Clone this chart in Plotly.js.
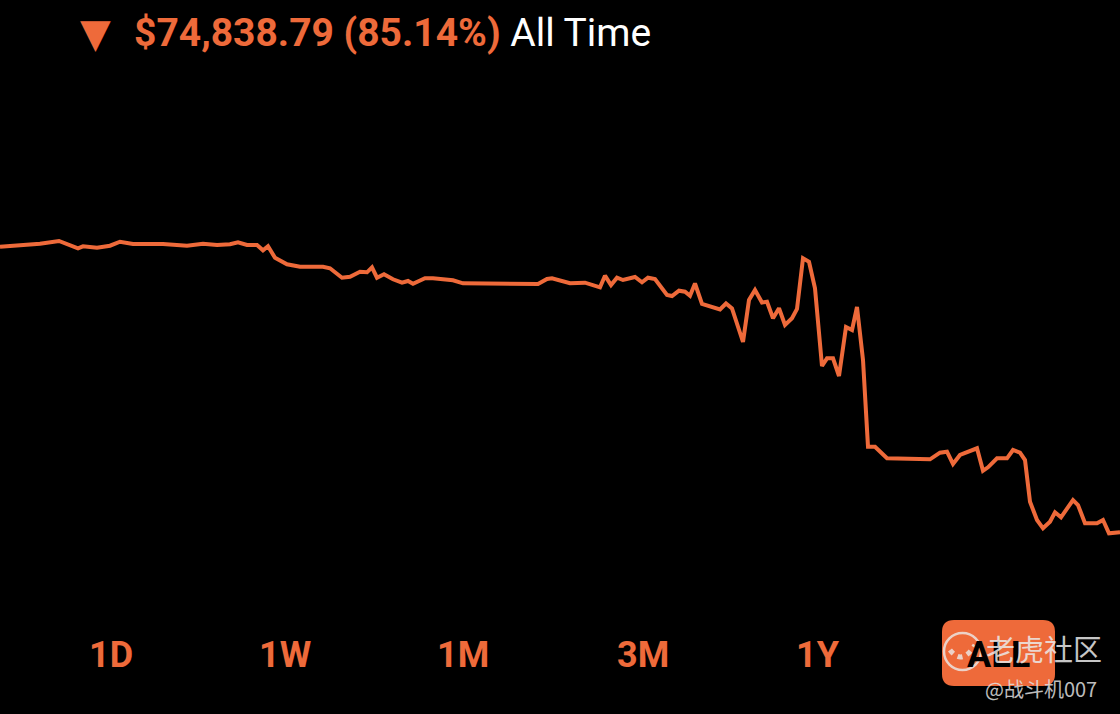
<!DOCTYPE html>
<html>
<head>
<meta charset="utf-8">
<script src="https://cdn.plot.ly/plotly-3.0.1.min.js"></script>
<style>
  html, body { margin: 0; padding: 0; background: #000; }
  #chart { width: 1120px; height: 714px; }
</style>
</head>
<body>
<div id="chart"></div>
<script>
// Days since account opening (estimated position along the All Time axis)
const days = [0,20,40,59,70,78,83,97,110,120,133,163,187,203,217,230,238,247,257,263,268,275,287,300,323,330,342,350,360,367,372,377,384,393,402,408,413,425,433,453,463,493,538,547,552,570,585,600,605,611,617,623,635,642,648,655,667,672,679,685,690,695,702,720,726,732,743,749,755,762,767,773,779,785,792,797,803,809,815,822,827,833,839,846,852,857,863,868,875,887,930,940,947,953,960,977,983,988,997,1007,1013,1020,1025,1030,1037,1043,1050,1055,1061,1073,1078,1085,1097,1103,1109,1120];
// Portfolio value (USD), estimated from the curve
const portfolioValue = [87901,88163,88687,89394,88163,87482,88006,87639,88163,89211,88608,88608,88163,88687,88346,88530,89054,88346,88346,86958,88006,85019,83290,82661,82661,82242,79779,80041,81351,81194,82504,79779,80670,79360,78469,78914,78207,79622,79622,79098,78312,78312,78128,79438,79622,78312,78469,77264,80303,77866,79779,79176,79962,78574,79779,79438,75246,74984,76373,76111,75063,78259,72888,71447,73019,71709,62932,73936,76556,73281,73491,69142,71762,67386,69142,71578,84862,83971,77002,56644,58662,58662,54024,66862,66076,72102,58216,35501,35501,32462,32200,33929,34191,30968,33326,35082,29213,30104,32462,32462,34636,33929,32016,21091,16296,14122,15851,18314,17004,21536,20226,15432,15432,16296,12812,13062];
const changeText = "$74,838.79 (85.14%)";
const periodText = "All Time";
const rangeLabels = ["1D","1W","1M","3M","1Y","ALL"];
const rangeX = [111,285,463,643,818,998];
const watermark = "老虎社区";
const watermarkUser = "@战斗机007";

const ORANGE = "#EE6A3A";
const W = 1120, H = 714;
const px = x => x / W;
const py = y => (H - y) / H;

const trace = {
  x: days, y: portfolioValue, type: "scatter", mode: "lines",
  line: { color: ORANGE, width: 4, shape: "linear" },
  hoverinfo: "skip"
};

const annotations = [];
annotations.push({
  xref: "paper", yref: "paper", x: px(95), y: py(33), xanchor: "center", yanchor: "middle",
  text: "▼", showarrow: false, font: { family: "DejaVu Sans", size: 40, color: ORANGE }
});
annotations.push({
  xref: "paper", yref: "paper", x: px(132), y: py(33), xanchor: "left", yanchor: "middle",
  text: "<b>" + changeText + "</b> <span style=\"color:#ffffff\">" + periodText + "</span>",
  showarrow: false, font: { family: "Roboto", size: 39, color: ORANGE }
});
rangeLabels.forEach((lab, i) => {
  const isSel = i === rangeLabels.length - 1;
  annotations.push({
    xref: "paper", yref: "paper", x: px(rangeX[i]), y: py(655), xanchor: "center", yanchor: "middle",
    text: "<b>" + lab + "</b>", showarrow: false,
    font: { family: "Roboto", size: 36, color: isSel ? "#000000" : ORANGE }
  });
});
annotations.push({
  xref: "paper", yref: "paper", x: px(984), y: py(648), xanchor: "left", yanchor: "middle",
  text: watermark, showarrow: false,
  font: { family: "Noto Sans CJK SC", size: 29, color: "rgba(235,235,235,0.85)" }
});
annotations.push({
  xref: "paper", yref: "paper", x: px(1099), y: py(688), xanchor: "right", yanchor: "middle",
  text: watermarkUser, showarrow: false,
  font: { family: "Noto Sans CJK SC", size: 20, color: "rgba(225,225,225,0.85)" }
});

const x0 = px(942), x1 = px(1055), yt = py(620), yb = py(686);
const rx = 12 / W, ry = 12 / H;
const f = v => v.toFixed(5);
const rounded = `M ${f(x0+rx)},${f(yt)} L ${f(x1-rx)},${f(yt)} Q ${f(x1)},${f(yt)} ${f(x1)},${f(yt-ry)} ` +
  `L ${f(x1)},${f(yb+ry)} Q ${f(x1)},${f(yb)} ${f(x1-rx)},${f(yb)} L ${f(x0+rx)},${f(yb)} ` +
  `Q ${f(x0)},${f(yb)} ${f(x0)},${f(yb+ry)} L ${f(x0)},${f(yt-ry)} Q ${f(x0)},${f(yt)} ${f(x0+rx)},${f(yt)} Z`;

const shapes = [
  { type: "path", xref: "paper", yref: "paper", path: rounded, fillcolor: ORANGE, line: { width: 0 }, layer: "below" },
  { type: "circle", xref: "paper", yref: "paper", x0: px(944), x1: px(981), y0: py(670), y1: py(633),
    line: { color: "rgba(235,235,235,0.8)", width: 2.5 }, fillcolor: "rgba(0,0,0,0)" },
  { type: "path", xref: "paper", yref: "paper",
    path: `M ${f(px(950))},${f(py(650))} Q ${f(px(962))},${f(py(666))} ${f(px(975))},${f(py(645))}`,
    line: { color: "rgba(235,235,235,0.8)", width: 5, dash: "dot" } }
];

const layout = {
  width: W, height: H,
  paper_bgcolor: "#000000", plot_bgcolor: "#000000",
  margin: { l: 0, r: 0, t: 0, b: 0, pad: 0 },
  showlegend: false,
  xaxis: { range: [0, 1120], visible: false, fixedrange: true },
  yaxis: { range: [-4664, 134196], domain: [py(600), py(70)], visible: false, fixedrange: true },
  annotations: annotations,
  shapes: shapes
};

Plotly.newPlot("chart", [trace], layout, { displayModeBar: false, staticPlot: true });
</script>
</body>
</html>
